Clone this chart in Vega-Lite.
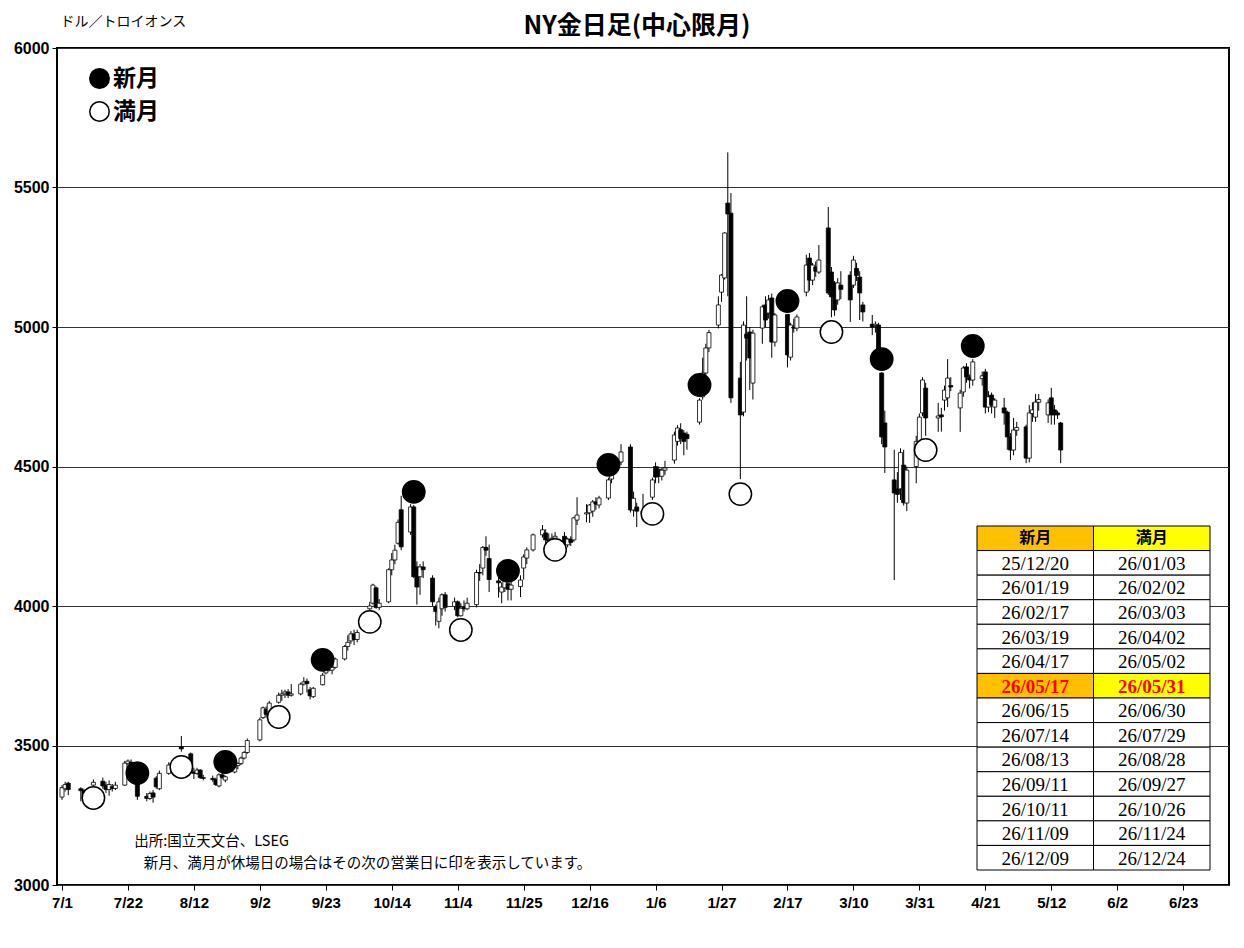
{
"$schema": "https://vega.github.io/schema/vega-lite/v6.json",
"autosize": {"type": "none"},
"width": 1172,
"height": 837,
"padding": {"left": 57, "top": 48, "right": 15, "bottom": 63},
"background": "white",
"title": {"text": "NY金日足(中心限月)", "font": "Noto Sans CJK JP", "fontSize": 25, "fontWeight": "bold", "color": "black", "anchor": "middle", "frame": "group", "offset": 11, "dy": 36, "dx": -6},
"config": {
  "view": {"stroke": "black", "strokeWidth": 2},
  "axis": {"labelColor": "black", "tickColor": "black"}
},
"datasets": {
"ohlc": [
{"d":"2025-07-01","o":3315,"h":3358,"l":3305,"c":3349},
{"d":"2025-07-02","o":3345,"h":3370,"l":3335,"c":3360},
{"d":"2025-07-03","o":3365,"h":3370,"l":3322,"c":3342},
{"d":"2025-07-07","o":3345,"h":3350,"l":3300,"c":3338},
{"d":"2025-07-08","o":3338,"h":3345,"l":3300,"c":3308},
{"d":"2025-07-09","o":3308,"h":3325,"l":3292,"c":3322},
{"d":"2025-07-10","o":3322,"h":3345,"l":3315,"c":3328},
{"d":"2025-07-11","o":3358,"h":3378,"l":3352,"c":3368},
{"d":"2025-07-14","o":3372,"h":3385,"l":3345,"c":3355},
{"d":"2025-07-15","o":3358,"h":3370,"l":3330,"c":3342},
{"d":"2025-07-16","o":3342,"h":3375,"l":3320,"c":3360},
{"d":"2025-07-17","o":3352,"h":3362,"l":3335,"c":3346},
{"d":"2025-07-18","o":3346,"h":3370,"l":3340,"c":3358},
{"d":"2025-07-21","o":3358,"h":3445,"l":3355,"c":3437},
{"d":"2025-07-22","o":3435,"h":3450,"l":3420,"c":3444},
{"d":"2025-07-23","o":3440,"h":3450,"l":3385,"c":3394},
{"d":"2025-07-24","o":3394,"h":3398,"l":3360,"c":3370},
{"d":"2025-07-25","o":3370,"h":3375,"l":3305,"c":3318},
{"d":"2025-07-28","o":3318,"h":3330,"l":3300,"c":3310},
{"d":"2025-07-29","o":3310,"h":3335,"l":3305,"c":3328},
{"d":"2025-07-30","o":3330,"h":3340,"l":3295,"c":3315},
{"d":"2025-07-31","o":3383,"h":3390,"l":3345,"c":3352},
{"d":"2025-08-01","o":3345,"h":3410,"l":3340,"c":3400},
{"d":"2025-08-04","o":3400,"h":3440,"l":3395,"c":3430},
{"d":"2025-08-05","o":3430,"h":3445,"l":3415,"c":3436},
{"d":"2025-08-06","o":3436,"h":3450,"l":3420,"c":3432},
{"d":"2025-08-07","o":3432,"h":3460,"l":3425,"c":3453},
{"d":"2025-08-08","o":3495,"h":3534,"l":3478,"c":3488},
{"d":"2025-08-11","o":3470,"h":3475,"l":3400,"c":3405},
{"d":"2025-08-12","o":3405,"h":3420,"l":3380,"c":3400},
{"d":"2025-08-13","o":3400,"h":3420,"l":3395,"c":3412},
{"d":"2025-08-14","o":3412,"h":3415,"l":3380,"c":3385},
{"d":"2025-08-15","o":3385,"h":3395,"l":3375,"c":3382},
{"d":"2025-08-18","o":3382,"h":3392,"l":3370,"c":3378},
{"d":"2025-08-19","o":3378,"h":3385,"l":3355,"c":3360},
{"d":"2025-08-20","o":3355,"h":3400,"l":3350,"c":3395},
{"d":"2025-08-21","o":3395,"h":3402,"l":3380,"c":3386},
{"d":"2025-08-22","o":3376,"h":3392,"l":3368,"c":3388},
{"d":"2025-08-25","o":3405,"h":3435,"l":3400,"c":3428},
{"d":"2025-08-26","o":3428,"h":3440,"l":3415,"c":3435},
{"d":"2025-08-27","o":3435,"h":3460,"l":3430,"c":3455},
{"d":"2025-08-28","o":3455,"h":3480,"l":3450,"c":3475},
{"d":"2025-08-29","o":3475,"h":3525,"l":3470,"c":3518},
{"d":"2025-09-02","o":3520,"h":3600,"l":3515,"c":3592},
{"d":"2025-09-03","o":3600,"h":3640,"l":3595,"c":3635},
{"d":"2025-09-04","o":3630,"h":3640,"l":3600,"c":3612},
{"d":"2025-09-05","o":3612,"h":3660,"l":3605,"c":3652},
{"d":"2025-09-08","o":3655,"h":3690,"l":3650,"c":3680},
{"d":"2025-09-09","o":3680,"h":3700,"l":3660,"c":3685},
{"d":"2025-09-10","o":3685,"h":3700,"l":3670,"c":3692},
{"d":"2025-09-11","o":3692,"h":3702,"l":3670,"c":3680},
{"d":"2025-09-12","o":3680,"h":3720,"l":3675,"c":3685},
{"d":"2025-09-15","o":3685,"h":3725,"l":3680,"c":3720},
{"d":"2025-09-16","o":3720,"h":3745,"l":3715,"c":3728},
{"d":"2025-09-17","o":3730,"h":3740,"l":3690,"c":3722},
{"d":"2025-09-18","o":3700,"h":3710,"l":3665,"c":3678},
{"d":"2025-09-19","o":3675,"h":3710,"l":3670,"c":3705},
{"d":"2025-09-22","o":3718,"h":3760,"l":3715,"c":3752},
{"d":"2025-09-23","o":3760,"h":3810,"l":3755,"c":3790},
{"d":"2025-09-24","o":3790,"h":3805,"l":3765,"c":3770},
{"d":"2025-09-25","o":3770,"h":3790,"l":3755,"c":3780},
{"d":"2025-09-26","o":3780,"h":3815,"l":3775,"c":3810},
{"d":"2025-09-29","o":3810,"h":3860,"l":3805,"c":3855},
{"d":"2025-09-30","o":3855,"h":3895,"l":3840,"c":3870},
{"d":"2025-10-01","o":3875,"h":3910,"l":3865,"c":3900},
{"d":"2025-10-02","o":3900,"h":3915,"l":3860,"c":3880},
{"d":"2025-10-03","o":3880,"h":3915,"l":3870,"c":3905},
{"d":"2025-10-06","o":3920,"h":3980,"l":3915,"c":3975},
{"d":"2025-10-07","o":3990,"h":4015,"l":3985,"c":4000},
{"d":"2025-10-08","o":4010,"h":4080,"l":4005,"c":4075},
{"d":"2025-10-09","o":4065,"h":4070,"l":3990,"c":3995},
{"d":"2025-10-10","o":3995,"h":4025,"l":3985,"c":4010},
{"d":"2025-10-13","o":4015,"h":4135,"l":4010,"c":4130},
{"d":"2025-10-14","o":4130,"h":4190,"l":4110,"c":4165},
{"d":"2025-10-15","o":4165,"h":4220,"l":4150,"c":4200},
{"d":"2025-10-16","o":4225,"h":4310,"l":4220,"c":4300},
{"d":"2025-10-17","o":4345,"h":4395,"l":4200,"c":4212},
{"d":"2025-10-20","o":4265,"h":4365,"l":4255,"c":4355},
{"d":"2025-10-21","o":4355,"h":4362,"l":4100,"c":4105},
{"d":"2025-10-22","o":4140,"h":4160,"l":4005,"c":4068},
{"d":"2025-10-23","o":4105,"h":4150,"l":4040,"c":4140},
{"d":"2025-10-24","o":4140,"h":4160,"l":4100,"c":4130},
{"d":"2025-10-27","o":4100,"h":4110,"l":4000,"c":4015},
{"d":"2025-10-28","o":3997,"h":4005,"l":3930,"c":3980},
{"d":"2025-10-29","o":3945,"h":4030,"l":3920,"c":4015},
{"d":"2025-10-30","o":3990,"h":4045,"l":3965,"c":4040},
{"d":"2025-10-31","o":4040,"h":4050,"l":3980,"c":3995},
{"d":"2025-11-03","o":3998,"h":4030,"l":3985,"c":4015},
{"d":"2025-11-04","o":4015,"h":4020,"l":3960,"c":3965},
{"d":"2025-11-05","o":3965,"h":4010,"l":3962,"c":3992},
{"d":"2025-11-06","o":3995,"h":4020,"l":3980,"c":3990},
{"d":"2025-11-07","o":3990,"h":4030,"l":3985,"c":4010},
{"d":"2025-11-10","o":4005,"h":4130,"l":3995,"c":4120},
{"d":"2025-11-11","o":4120,"h":4150,"l":4090,"c":4118},
{"d":"2025-11-12","o":4136,"h":4215,"l":4110,"c":4210},
{"d":"2025-11-13","o":4210,"h":4250,"l":4180,"c":4200},
{"d":"2025-11-14","o":4170,"h":4220,"l":4050,"c":4095},
{"d":"2025-11-17","o":4090,"h":4110,"l":4030,"c":4083},
{"d":"2025-11-18","o":4050,"h":4085,"l":4010,"c":4068},
{"d":"2025-11-19","o":4065,"h":4125,"l":4050,"c":4110},
{"d":"2025-11-20","o":4080,"h":4082,"l":4020,"c":4060},
{"d":"2025-11-21","o":4060,"h":4100,"l":4020,"c":4075},
{"d":"2025-11-24","o":4070,"h":4110,"l":4032,"c":4093},
{"d":"2025-11-25","o":4136,"h":4185,"l":4095,"c":4176},
{"d":"2025-11-26","o":4172,"h":4210,"l":4150,"c":4201},
{"d":"2025-11-28","o":4201,"h":4260,"l":4195,"c":4255},
{"d":"2025-12-01","o":4255,"h":4290,"l":4245,"c":4273},
{"d":"2025-12-02","o":4262,"h":4275,"l":4195,"c":4237},
{"d":"2025-12-03","o":4237,"h":4260,"l":4210,"c":4232},
{"d":"2025-12-04","o":4232,"h":4260,"l":4215,"c":4243},
{"d":"2025-12-05","o":4243,"h":4265,"l":4240,"c":4250},
{"d":"2025-12-08","o":4250,"h":4265,"l":4205,"c":4219},
{"d":"2025-12-09","o":4219,"h":4245,"l":4210,"c":4240},
{"d":"2025-12-10","o":4240,"h":4250,"l":4215,"c":4228},
{"d":"2025-12-11","o":4237,"h":4320,"l":4230,"c":4316},
{"d":"2025-12-12","o":4308,"h":4390,"l":4290,"c":4326},
{"d":"2025-12-15","o":4330,"h":4365,"l":4300,"c":4334},
{"d":"2025-12-16","o":4334,"h":4365,"l":4298,"c":4362},
{"d":"2025-12-17","o":4340,"h":4380,"l":4320,"c":4373},
{"d":"2025-12-18","o":4373,"h":4390,"l":4345,"c":4365},
{"d":"2025-12-19","o":4362,"h":4395,"l":4350,"c":4387},
{"d":"2025-12-22","o":4387,"h":4460,"l":4380,"c":4452},
{"d":"2025-12-23","o":4455,"h":4520,"l":4440,"c":4505},
{"d":"2025-12-24","o":4505,"h":4525,"l":4480,"c":4502},
{"d":"2025-12-26","o":4516,"h":4580,"l":4505,"c":4552},
{"d":"2025-12-29","o":4570,"h":4580,"l":4335,"c":4344},
{"d":"2025-12-30","o":4344,"h":4410,"l":4320,"c":4386},
{"d":"2025-12-31","o":4355,"h":4370,"l":4283,"c":4340},
{"d":"2026-01-02","o":4340,"h":4402,"l":4320,"c":4330},
{"d":"2026-01-05","o":4390,"h":4460,"l":4380,"c":4452},
{"d":"2026-01-06","o":4500,"h":4515,"l":4440,"c":4462},
{"d":"2026-01-07","o":4490,"h":4500,"l":4440,"c":4465},
{"d":"2026-01-08","o":4465,"h":4495,"l":4450,"c":4487},
{"d":"2026-01-09","o":4487,"h":4520,"l":4470,"c":4495},
{"d":"2026-01-12","o":4523,"h":4625,"l":4510,"c":4613},
{"d":"2026-01-13","o":4590,"h":4648,"l":4575,"c":4638},
{"d":"2026-01-14","o":4632,"h":4655,"l":4580,"c":4600},
{"d":"2026-01-15","o":4620,"h":4630,"l":4540,"c":4590},
{"d":"2026-01-16","o":4615,"h":4625,"l":4560,"c":4600},
{"d":"2026-01-20","o":4659,"h":4745,"l":4650,"c":4738},
{"d":"2026-01-21","o":4750,"h":4890,"l":4740,"c":4835},
{"d":"2026-01-22","o":4835,"h":4940,"l":4820,"c":4925},
{"d":"2026-01-23","o":4925,"h":4990,"l":4910,"c":4980},
{"d":"2026-01-26","o":5007,"h":5110,"l":4995,"c":5079},
{"d":"2026-01-27","o":5125,"h":5190,"l":5090,"c":5186},
{"d":"2026-01-28","o":5176,"h":5340,"l":5170,"c":5337},
{"d":"2026-01-29","o":5444,"h":5626,"l":5110,"c":5405},
{"d":"2026-01-30","o":5408,"h":5480,"l":4728,"c":4746},
{"d":"2026-02-02","o":4817,"h":4875,"l":4455,"c":4685},
{"d":"2026-02-03","o":4695,"h":5020,"l":4680,"c":5007},
{"d":"2026-02-04","o":4975,"h":5110,"l":4880,"c":4960},
{"d":"2026-02-05","o":4982,"h":5000,"l":4774,"c":4889},
{"d":"2026-02-06","o":4799,"h":4990,"l":4740,"c":4978},
{"d":"2026-02-09","o":4996,"h":5080,"l":4940,"c":5072},
{"d":"2026-02-10","o":5079,"h":5110,"l":5000,"c":5025},
{"d":"2026-02-11","o":5050,"h":5115,"l":5030,"c":5097},
{"d":"2026-02-12","o":5104,"h":5120,"l":4890,"c":4946},
{"d":"2026-02-13","o":4946,"h":5050,"l":4930,"c":5043},
{"d":"2026-02-17","o":5045,"h":5046,"l":4855,"c":4900},
{"d":"2026-02-18","o":4892,"h":5015,"l":4880,"c":5007},
{"d":"2026-02-19","o":5000,"h":5030,"l":4980,"c":4996},
{"d":"2026-02-20","o":4996,"h":5045,"l":4985,"c":5036},
{"d":"2026-02-23","o":5125,"h":5259,"l":5110,"c":5222},
{"d":"2026-02-24","o":5247,"h":5265,"l":5130,"c":5168},
{"d":"2026-02-25","o":5168,"h":5230,"l":5150,"c":5222},
{"d":"2026-02-26","o":5215,"h":5235,"l":5180,"c":5200},
{"d":"2026-02-27","o":5197,"h":5294,"l":5190,"c":5240},
{"d":"2026-03-02","o":5355,"h":5430,"l":5115,"c":5122},
{"d":"2026-03-03","o":5197,"h":5215,"l":5035,"c":5108},
{"d":"2026-03-04","o":5158,"h":5165,"l":5040,"c":5061},
{"d":"2026-03-05","o":5097,"h":5175,"l":5080,"c":5158},
{"d":"2026-03-06","o":5150,"h":5200,"l":5100,"c":5135},
{"d":"2026-03-09","o":5186,"h":5200,"l":5018,"c":5097},
{"d":"2026-03-10","o":5150,"h":5255,"l":5140,"c":5240},
{"d":"2026-03-11","o":5210,"h":5230,"l":5165,"c":5185},
{"d":"2026-03-12","o":5179,"h":5200,"l":5025,"c":5122},
{"d":"2026-03-13","o":5079,"h":5090,"l":5020,"c":5054},
{"d":"2026-03-16","o":5010,"h":5043,"l":4971,"c":5000},
{"d":"2026-03-17","o":5005,"h":5020,"l":4980,"c":5010},
{"d":"2026-03-18","o":5007,"h":5015,"l":4880,"c":4892},
{"d":"2026-03-19","o":4835,"h":4838,"l":4580,"c":4606},
{"d":"2026-03-20","o":4656,"h":4700,"l":4477,"c":4570},
{"d":"2026-03-23","o":4452,"h":4560,"l":4093,"c":4405},
{"d":"2026-03-24","o":4420,"h":4480,"l":4370,"c":4400},
{"d":"2026-03-25","o":4420,"h":4565,"l":4380,"c":4550},
{"d":"2026-03-26","o":4505,"h":4560,"l":4360,"c":4370},
{"d":"2026-03-27","o":4369,"h":4500,"l":4340,"c":4487},
{"d":"2026-03-30","o":4500,"h":4610,"l":4440,"c":4590},
{"d":"2026-03-31","o":4590,"h":4690,"l":4575,"c":4677},
{"d":"2026-04-01","o":4692,"h":4820,"l":4680,"c":4810},
{"d":"2026-04-02","o":4781,"h":4800,"l":4610,"c":4674},
{"d":"2026-04-06","o":4674,"h":4728,"l":4624,"c":4681},
{"d":"2026-04-07","o":4685,"h":4710,"l":4625,"c":4678},
{"d":"2026-04-08","o":4738,"h":4790,"l":4700,"c":4774},
{"d":"2026-04-09","o":4746,"h":4885,"l":4713,"c":4817},
{"d":"2026-04-10","o":4790,"h":4820,"l":4770,"c":4785},
{"d":"2026-04-13","o":4710,"h":4775,"l":4624,"c":4763},
{"d":"2026-04-14","o":4767,"h":4860,"l":4750,"c":4853},
{"d":"2026-04-15","o":4857,"h":4870,"l":4800,"c":4821},
{"d":"2026-04-16","o":4820,"h":4830,"l":4780,"c":4810},
{"d":"2026-04-17","o":4810,"h":4885,"l":4790,"c":4875},
{"d":"2026-04-20","o":4815,"h":4840,"l":4790,"c":4825},
{"d":"2026-04-21","o":4839,"h":4850,"l":4690,"c":4713},
{"d":"2026-04-22","o":4713,"h":4770,"l":4695,"c":4750},
{"d":"2026-04-23","o":4756,"h":4765,"l":4690,"c":4720},
{"d":"2026-04-24","o":4713,"h":4745,"l":4674,"c":4738},
{"d":"2026-04-27","o":4710,"h":4746,"l":4650,"c":4692},
{"d":"2026-04-28","o":4695,"h":4700,"l":4560,"c":4606},
{"d":"2026-04-29","o":4606,"h":4620,"l":4523,"c":4559},
{"d":"2026-04-30","o":4559,"h":4674,"l":4540,"c":4631},
{"d":"2026-05-01","o":4630,"h":4660,"l":4610,"c":4640},
{"d":"2026-05-04","o":4642,"h":4650,"l":4512,"c":4530},
{"d":"2026-05-05","o":4530,"h":4720,"l":4515,"c":4692},
{"d":"2026-05-06","o":4690,"h":4730,"l":4660,"c":4703},
{"d":"2026-05-07","o":4677,"h":4760,"l":4660,"c":4731},
{"d":"2026-05-08","o":4730,"h":4760,"l":4700,"c":4740},
{"d":"2026-05-11","o":4685,"h":4740,"l":4656,"c":4728},
{"d":"2026-05-12","o":4746,"h":4782,"l":4650,"c":4685},
{"d":"2026-05-13","o":4703,"h":4720,"l":4650,"c":4685},
{"d":"2026-05-14","o":4692,"h":4700,"l":4670,"c":4685},
{"d":"2026-05-15","o":4656,"h":4660,"l":4512,"c":4559}
],
"moons": [
{"d":"2025-07-11","p":3312,"type":"満月"},
{"d":"2025-07-25","p":3401,"type":"新月"},
{"d":"2025-08-08","p":3423,"type":"満月"},
{"d":"2025-08-22","p":3441,"type":"新月"},
{"d":"2025-09-08","p":3602,"type":"満月"},
{"d":"2025-09-22","p":3807,"type":"新月"},
{"d":"2025-10-07","p":3943,"type":"満月"},
{"d":"2025-10-21","p":4409,"type":"新月"},
{"d":"2025-11-05","p":3914,"type":"満月"},
{"d":"2025-11-20","p":4126,"type":"新月"},
{"d":"2025-12-05","p":4201,"type":"満月"},
{"d":"2025-12-22","p":4506,"type":"新月"},
{"d":"2026-01-05","p":4330,"type":"満月"},
{"d":"2026-01-20","p":4792,"type":"新月"},
{"d":"2026-02-02","p":4401,"type":"満月"},
{"d":"2026-02-17","p":5093,"type":"新月"},
{"d":"2026-03-03","p":4982,"type":"満月"},
{"d":"2026-03-19","p":4885,"type":"新月"},
{"d":"2026-04-02","p":4559,"type":"満月"},
{"d":"2026-04-17","p":4932,"type":"新月"}
],
"table": [
{"r":0,"col":"新月","label":"新月","kind":"header"},
{"r":0,"col":"満月","label":"満月","kind":"header"},
{"r":1,"col":"新月","label":"25/12/20","kind":"normal"},
{"r":1,"col":"満月","label":"26/01/03","kind":"normal"},
{"r":2,"col":"新月","label":"26/01/19","kind":"normal"},
{"r":2,"col":"満月","label":"26/02/02","kind":"normal"},
{"r":3,"col":"新月","label":"26/02/17","kind":"normal"},
{"r":3,"col":"満月","label":"26/03/03","kind":"normal"},
{"r":4,"col":"新月","label":"26/03/19","kind":"normal"},
{"r":4,"col":"満月","label":"26/04/02","kind":"normal"},
{"r":5,"col":"新月","label":"26/04/17","kind":"normal"},
{"r":5,"col":"満月","label":"26/05/02","kind":"normal"},
{"r":6,"col":"新月","label":"26/05/17","kind":"current"},
{"r":6,"col":"満月","label":"26/05/31","kind":"current"},
{"r":7,"col":"新月","label":"26/06/15","kind":"normal"},
{"r":7,"col":"満月","label":"26/06/30","kind":"normal"},
{"r":8,"col":"新月","label":"26/07/14","kind":"normal"},
{"r":8,"col":"満月","label":"26/07/29","kind":"normal"},
{"r":9,"col":"新月","label":"26/08/13","kind":"normal"},
{"r":9,"col":"満月","label":"26/08/28","kind":"normal"},
{"r":10,"col":"新月","label":"26/09/11","kind":"normal"},
{"r":10,"col":"満月","label":"26/09/27","kind":"normal"},
{"r":11,"col":"新月","label":"26/10/11","kind":"normal"},
{"r":11,"col":"満月","label":"26/10/26","kind":"normal"},
{"r":12,"col":"新月","label":"26/11/09","kind":"normal"},
{"r":12,"col":"満月","label":"26/11/24","kind":"normal"},
{"r":13,"col":"新月","label":"26/12/09","kind":"normal"},
{"r":13,"col":"満月","label":"26/12/24","kind":"normal"}
]
},
"layer": [
{
  "layer": [
    {
      "data": {"name": "ohlc"},
      "mark": {"type": "rule", "color": "black", "strokeWidth": 1},
      "encoding": {
        "x": {"field": "d", "type": "temporal",
          "scale": {"type": "utc", "domain": [{"year":2025,"month":7,"date":1,"utc":true},{"year":2026,"month":7,"date":6,"utc":true}]},
          "axis": {"values": [
            {"year":2025,"month":7,"date":1,"utc":true},{"year":2025,"month":7,"date":22,"utc":true},
            {"year":2025,"month":8,"date":12,"utc":true},{"year":2025,"month":9,"date":2,"utc":true},
            {"year":2025,"month":9,"date":23,"utc":true},{"year":2025,"month":10,"date":14,"utc":true},
            {"year":2025,"month":11,"date":4,"utc":true},{"year":2025,"month":11,"date":25,"utc":true},
            {"year":2025,"month":12,"date":16,"utc":true},{"year":2026,"month":1,"date":6,"utc":true},
            {"year":2026,"month":1,"date":27,"utc":true},{"year":2026,"month":2,"date":17,"utc":true},
            {"year":2026,"month":3,"date":10,"utc":true},{"year":2026,"month":3,"date":31,"utc":true},
            {"year":2026,"month":4,"date":21,"utc":true},{"year":2026,"month":5,"date":12,"utc":true},
            {"year":2026,"month":6,"date":2,"utc":true},{"year":2026,"month":6,"date":23,"utc":true}],
            "labelExpr": "utcFormat(datum.value, '%-m/%-d')",
            "title": null, "grid": false, "domain": false, "tickSize": 5,
            "labelFont": "Liberation Sans", "labelFontSize": 15, "labelFontWeight": "bold",
            "labelPadding": 5, "labelOverlap": false, "labelFlush": false}},
        "y": {"field": "l", "type": "quantitative",
          "scale": {"domain": [3000, 6000], "nice": false, "zero": false},
          "axis": {"values": [3000,3500,4000,4500,5000,5500,6000], "format": "d",
            "grid": true, "gridColor": "#333333", "gridWidth": 1, "domain": false, "tickSize": 5,
            "labelFont": "Liberation Sans", "labelFontSize": 16, "labelFontWeight": "bold", "labelPadding": 3,
            "title": "ドル／トロイオンス", "titleAngle": 0, "titleAlign": "left", "titleBaseline": "alphabetic",
            "titleX": 3, "titleY": -23, "titleFont": "Noto Sans CJK JP", "titleFontSize": 14, "titleFontWeight": "normal", "titleColor": "black"}},
        "y2": {"field": "h"}
      }
    },
    {
      "data": {"name": "ohlc"},
      "mark": {"type": "bar", "size": 4, "stroke": "black", "strokeWidth": 0.8},
      "encoding": {
        "x": {"field": "d", "type": "temporal"},
        "y": {"field": "o", "type": "quantitative"},
        "y2": {"field": "c"},
        "fill": {"condition": {"test": "datum.c < datum.o", "value": "black"}, "value": "white"}
      }
    },
    {
      "data": {"name": "moons"},
      "mark": {"type": "point", "shape": "circle", "filled": true, "size": 500, "stroke": "black", "strokeWidth": 1.5, "opacity": 1},
      "encoding": {
        "x": {"field": "d", "type": "temporal"},
        "y": {"field": "p", "type": "quantitative"},
        "fill": {"field": "type", "type": "nominal",
          "scale": {"domain": ["新月", "満月"], "range": ["black", "white"]},
          "legend": {"title": null, "orient": "none", "legendX": 31, "legendY": 19, "padding": 0,
            "symbolType": "circle", "symbolSize": 380, "symbolStrokeColor": "black", "symbolStrokeWidth": 1.5, "symbolOpacity": 1,
            "labelFont": "Noto Sans CJK JP", "labelFontSize": 23, "labelFontWeight": "bold", "labelColor": "black",
            "labelOffset": 2, "rowPadding": 6}}
      }
    },
    {
      "data": {"values": [{"note": "出所:国立天文台、LSEG"}]},
      "mark": {"type": "text", "align": "left", "baseline": "alphabetic", "font": "Noto Sans CJK JP", "fontSize": 14.5, "color": "black"},
      "encoding": {
        "x": {"datum": {"year":2025,"month":7,"date":24,"utc":true}, "type": "temporal"},
        "y": {"datum": 3140, "type": "quantitative"},
        "text": {"field": "note"}
      }
    },
    {
      "data": {"values": [{"note": "新月、満月が休場日の場合はその次の営業日に印を表示しています。"}]},
      "mark": {"type": "text", "align": "left", "baseline": "alphabetic", "font": "Noto Sans CJK JP", "fontSize": 14.5, "color": "black"},
      "encoding": {
        "x": {"datum": {"year":2025,"month":7,"date":27,"utc":true}, "type": "temporal"},
        "y": {"datum": 3061, "type": "quantitative"},
        "text": {"field": "note"}
      }
    }
  ]
},
{
  "data": {"name": "table"},
  "encoding": {
    "x": {"field": "col", "type": "nominal", "axis": null,
      "scale": {"type": "band", "domain": ["新月", "満月"], "range": [920, 1153], "paddingInner": 0, "paddingOuter": 0}},
    "y": {"field": "r", "type": "ordinal", "axis": null,
      "scale": {"type": "band", "range": [478, 822], "paddingInner": 0, "paddingOuter": 0}}
  },
  "layer": [
    {
      "mark": {"type": "rect", "stroke": "black", "strokeWidth": 1},
      "encoding": {
        "fill": {"condition": {"test": "datum.kind != 'normal'", "field": "col", "type": "nominal",
          "scale": {"domain": ["新月", "満月"], "range": ["#FFC000", "#FFFF00"]}, "legend": null}, "value": "white"}
      }
    },
    {
      "transform": [{"filter": "datum.kind == 'normal'"}],
      "mark": {"type": "text", "font": "Liberation Serif", "fontSize": 19, "color": "black", "baseline": "middle", "dy": 1},
      "encoding": {"text": {"field": "label"}}
    },
    {
      "transform": [{"filter": "datum.kind == 'current'"}],
      "mark": {"type": "text", "font": "Liberation Serif", "fontSize": 19, "fontWeight": "bold", "color": "#FF0000", "baseline": "middle", "dy": 1},
      "encoding": {"text": {"field": "label"}}
    },
    {
      "transform": [{"filter": "datum.kind == 'header'"}],
      "mark": {"type": "text", "font": "Noto Sans CJK JP", "fontSize": 16, "fontWeight": "bold", "color": "black", "baseline": "middle"},
      "encoding": {"text": {"field": "label"}}
    }
  ]
}
],
"resolve": {"scale": {"x": "independent", "y": "independent", "fill": "independent"}}
}
